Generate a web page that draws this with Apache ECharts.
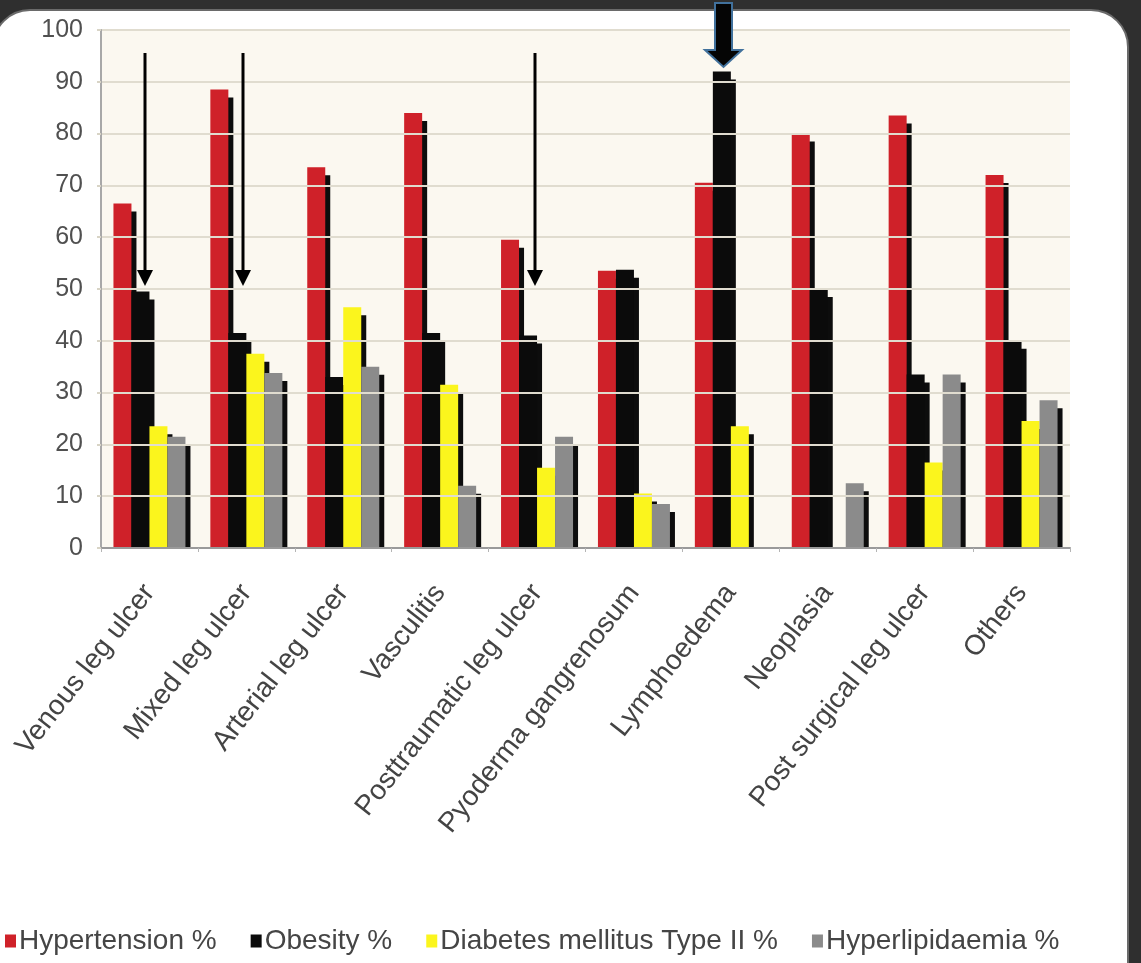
<!DOCTYPE html>
<html>
<head>
<meta charset="utf-8">
<title>Comorbidities by leg ulcer aetiology</title>
<script src="https://cdn.jsdelivr.net/npm/echarts@6/dist/echarts.min.js"></script>
<style>
  html, body { margin: 0; padding: 0; width: 1141px; height: 963px; overflow: hidden; background: #2f2f2f; }
  #panel {
    position: absolute; left: -8px; top: 9px; width: 1137px; height: 1020px;
    background: #ffffff; border-radius: 38px; border: 2px solid #6a6a6a; box-sizing: border-box;
  }
  #chart { position: absolute; left: 0; top: 0; width: 1141px; height: 963px; }
</style>
</head>
<body>
<div id="panel"></div>
<div id="chart"></div>
<script>
// Aetiology groups along the x axis
const categories = [
  'Venous leg ulcer', 'Mixed leg ulcer', 'Arterial leg ulcer', 'Vasculitis',
  'Posttraumatic leg ulcer', 'Pyoderma gangrenosum', 'Lymphoedema', 'Neoplasia',
  'Post surgical leg ulcer', 'Others'
];

// Share of patients with each comorbidity (%)
const hypertension = [66.5, 88.5, 73.5, 84, 59.5, 53.5, 70.5, 80, 83.5, 72];
const obesity      = [49.5, 41.5, 33, 41.5, 41, 53.7, 92, 50, 33.5, 40];
const diabetes     = [23.5, 37.5, 46.5, 31.5, 15.5, 10.5, 23.5, 0, 16.5, 24.5];
const lipids       = [21.5, 33.8, 35, 12, 21.5, 8.5, 0, 12.5, 33.5, 28.5];

const yTicks = [0, 10, 20, 30, 40, 50, 60, 70, 80, 90, 100];

const FONT = '"Liberation Sans", Arial, sans-serif';

// Bars carry a hard dark drop shadow to the lower right
function barSeries(name, data, color) {
  return {
    name: name,
    type: 'bar',
    data: data,
    barWidth: 18,
    barGap: '0%',
    itemStyle: {
      color: color,
      shadowColor: '#0d0d0d',
      shadowBlur: 0,
      shadowOffsetX: 5,
      shadowOffsetY: 8
    }
  };
}

// Annotation arrows
function thinArrow(x) {
  return [
    { type: 'line', z: 30, shape: { x1: x, y1: 53, x2: x, y2: 274 },
      style: { stroke: '#000', lineWidth: 3 } },
    { type: 'polygon', z: 30, shape: { points: [[x - 8, 270], [x + 8, 270], [x, 286]] },
      style: { fill: '#000' } }
  ];
}

const chart = echarts.init(document.getElementById('chart'), null, { renderer: 'canvas' });

chart.setOption({
  backgroundColor: 'transparent',
  animation: false,
  grid: {
    left: 101, right: 71, top: 30, bottom: 415,
    show: true, backgroundColor: '#fbf8f0', borderWidth: 0
  },
  legend: {
    left: 5, top: 927, padding: 0,
    icon: 'rect', itemWidth: 11, itemHeight: 13, itemGap: 34,
    textStyle: { fontFamily: FONT, fontSize: 28, color: '#454545', padding: [0, 0, 0, -2] }
  },
  xAxis: {
    type: 'category',
    data: categories,
    z: 20,
    axisLine: { lineStyle: { color: '#9a9a9a', width: 2 } },
    axisTick: { show: true, length: 4, lineStyle: { color: '#b5b5b5' } },
    axisLabel: {
      interval: 0, rotate: 52, margin: 40,
      verticalAlign: 'middle',
      fontFamily: FONT, fontSize: 28, color: '#444'
    }
  },
  yAxis: {
    type: 'value',
    min: 0, max: 100, interval: 10,
    z: 20,
    axisLine: { show: true, lineStyle: { color: '#a8a8a8', width: 2 } },
    axisTick: { show: true, length: 4, lineStyle: { color: '#d8d4c6', width: 2 } },
    splitLine: { lineStyle: { color: '#e0dccf', width: 2 } },
    axisLabel: {
      margin: 18, fontFamily: FONT, fontSize: 25, color: '#505050',
      formatter: v => yTicks.includes(v) ? String(v) : ''
    }
  },
  series: [
    barSeries('Hypertension %', hypertension, '#cf2129'),
    barSeries('Obesity %', obesity, '#0b0b0b'),
    barSeries('Diabetes mellitus Type II %', diabetes, '#fbf51d'),
    barSeries('Hyperlipidaemia %', lipids, '#8b8b8b')
  ],
  graphic: [
    // keeps the bar shadows from spilling below the category axis
    { type: 'rect', z: 10, shape: { x: 99, y: 549, width: 985, height: 11 }, style: { fill: '#ffffff' } },
    ...thinArrow(145),
    ...thinArrow(243),
    ...thinArrow(535),
    { type: 'polygon', z: 30,
      shape: { points: [[715, 3], [732, 3], [732, 50], [742, 50], [723.5, 67], [705, 50], [715, 50]] },
      style: { fill: '#050505', stroke: '#41719c', lineWidth: 2 } }
  ]
});
</script>
</body>
</html>
